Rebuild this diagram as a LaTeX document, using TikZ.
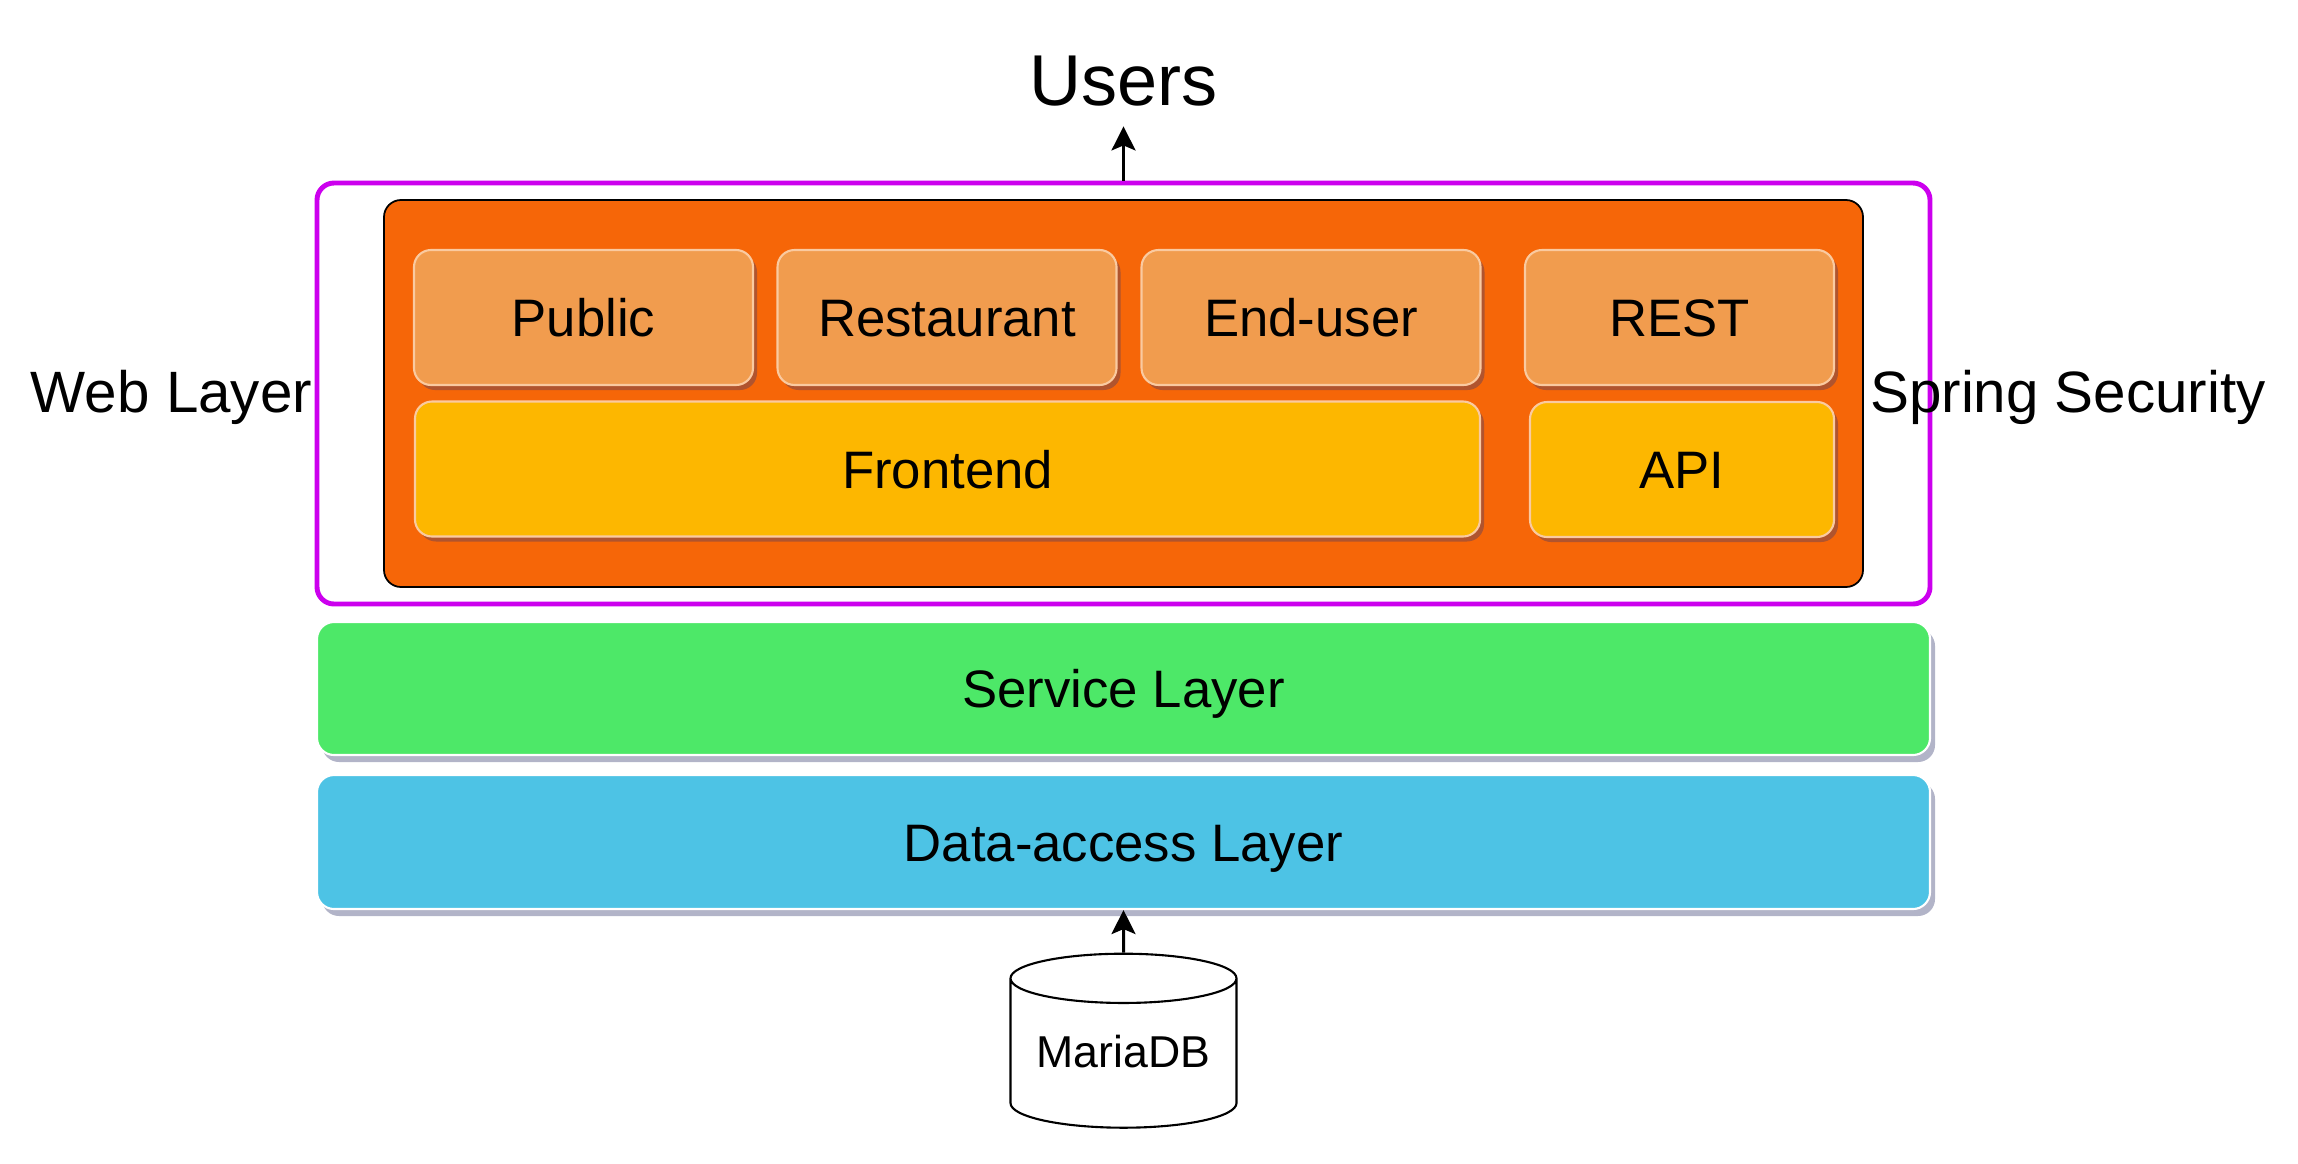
\documentclass[tikz,border=0pt]{standalone}
\usepackage{fontspec}
\setmainfont{Liberation Sans}
\usetikzlibrary{shapes.geometric,shadows,arrows.meta}

\definecolor{secmagenta}{RGB}{204,0,238}
\definecolor{weborange}{RGB}{246,102,8}
\definecolor{modorange}{RGB}{241,156,78}
\definecolor{modedge}{RGB}{250,202,160}
\definecolor{modshadow}{RGB}{176,84,46}
\definecolor{frontyellow}{RGB}{253,183,0}
\definecolor{svcgreen}{RGB}{77,232,104}
\definecolor{dablue}{RGB}{77,195,229}
\definecolor{tiershadow}{RGB}{178,180,200}

\begin{document}
\begin{tikzpicture}[
		yscale=-1,
		>={Stealth[length=2.4mm,width=2.4mm,inset=0.5mm]},
		caption/.style={font=\fontsize{15pt}{18pt}\selectfont,text height=0.38cm,text depth=0cm},
		sidecaption/.style={font=\fontsize{16.6pt}{20pt}\selectfont,text height=0.42cm,text depth=0cm},
		module/.style={caption,rounded corners=0.17cm,fill=modorange,draw=modedge,line width=0.6pt,
			minimum width=3.39cm,minimum height=1.35cm,
			drop shadow={shadow xshift=0.04cm,shadow yshift=-0.05cm,fill=modshadow,opacity=1}},
		frontpart/.style={module,fill=frontyellow},
		tier/.style={caption,rounded corners=0.17cm,draw=white,line width=0.6pt,
			minimum width=16.13cm,minimum height=1.34cm,
			drop shadow={shadow xshift=0.05cm,shadow yshift=-0.07cm,fill=tiershadow,opacity=1}},
		database/.style={cylinder,shape border rotate=90,aspect=0.25,draw,line width=0.6pt,
			minimum width=2.26cm,minimum height=1.74cm,
			font=\fontsize{12.7pt}{15pt}\selectfont,text height=0.32cm,text depth=0.16cm}
	]
		\useasboundingbox (0,0) rectangle (22.98,11.63);

		% Web layer
		\node[draw=secmagenta,line width=1.4pt,rounded corners=0.17cm,
			minimum width=16.13cm,minimum height=4.21cm] (security) at (11.235,3.935) {};
		\node[draw,fill=weborange,line width=0.5pt,rounded corners=0.17cm,
			minimum width=14.79cm,minimum height=3.87cm] (web) at (11.235,3.935) {};
		\node[module] (public) at (5.835,3.175) {Public};
		\node[module] (restaurant) at (9.47,3.175) {Restaurant};
		\node[module] (enduser) at (13.11,3.175) {End-user};
		\node[module,minimum width=3.09cm] (rest) at (16.795,3.175) {REST};
		\node[frontpart,minimum width=10.65cm] (frontend) at (9.475,4.69) {Frontend};
		\node[frontpart,minimum width=3.04cm] (api) at (16.82,4.695) {API};

		% Side labels
		\node[sidecaption] (weblabel) at (1.715,3.91) {Web Layer};
		\node[sidecaption] (springlabel) at (20.68,3.91) {Spring Security};

		% Lower layers
		\node[tier,fill=svcgreen,minimum height=1.33cm] (service) at (11.235,6.885) {Service Layer};
		\node[tier,fill=dablue] (dataaccess) at (11.235,8.42) {Data-access Layer};

		% Ends
		\node[font=\fontsize{20.5pt}{25pt}\selectfont,anchor=base,inner sep=0.2cm] (users) at (11.235,1.05) {Users};
		\node[database] (db) at (11.235,10.59) {MariaDB};

		\draw[->,line width=0.85pt] (security.north) -- (users.south);
		\draw[->,line width=0.85pt] (db.north) -- (dataaccess.south);
	\end{tikzpicture}
\end{document}
